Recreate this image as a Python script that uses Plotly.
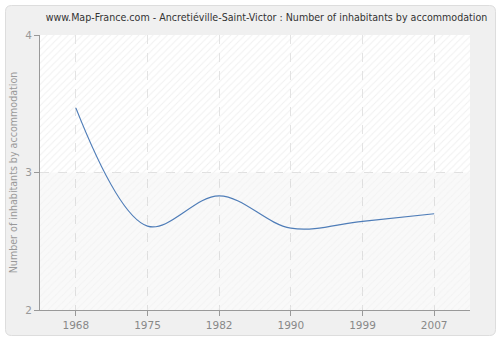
import plotly.graph_objects as go

years = ["1968", "1975", "1982", "1990", "1999", "2007"]
values = [3.47, 2.61, 2.83, 2.595, 2.645, 2.70]
y_ticks = [2, 3, 4]

W, H = 500, 340
ML, MR, MT, MB = 40, 30, 35, 30
PW, PH = W - ML - MR, H - MT - MB

def px(x):
    return (x - ML) / PW

def py(y):
    return (H - MB - y) / PH

def rounded(x0, y0, x1, y1, r):
    pts = [
        f"M {px(x0 + r)} {py(y0)}",
        f"L {px(x1 - r)} {py(y0)}",
        f"Q {px(x1)} {py(y0)} {px(x1)} {py(y0 + r)}",
        f"L {px(x1)} {py(y1 - r)}",
        f"Q {px(x1)} {py(y1)} {px(x1 - r)} {py(y1)}",
        f"L {px(x0 + r)} {py(y1)}",
        f"Q {px(x0)} {py(y1)} {px(x0)} {py(y1 - r)}",
        f"L {px(x0)} {py(y0 + r)}",
        f"Q {px(x0)} {py(y0)} {px(x0 + r)} {py(y0)}",
        "Z",
    ]
    return " ".join(pts)

xi = list(range(len(years)))
xr = [-0.5, len(years) - 0.5]

fig = go.Figure()

# background bands with hatch
fig.add_trace(go.Scatter(
    x=[xr[0], xr[1], xr[1], xr[0], xr[0]], y=[3, 3, 4, 4, 3],
    mode="lines", line=dict(width=0), fill="toself",
    fillcolor="rgba(0,0,0,0)",
    fillpattern=dict(shape="/", fgcolor="#e2e2e2", bgcolor="rgba(0,0,0,0)",
                     size=5, solidity=0.2),
    hoverinfo="skip", showlegend=False))
fig.add_trace(go.Scatter(
    x=[xr[0], xr[1], xr[1], xr[0], xr[0]], y=[2, 2, 3, 3, 2],
    mode="lines", line=dict(width=0), fill="toself",
    fillcolor="rgba(0,0,0,0)",
    fillpattern=dict(shape="/", fgcolor="#ececec", bgcolor="rgba(0,0,0,0.025)",
                     size=5, solidity=0.2),
    hoverinfo="skip", showlegend=False))

fig.add_trace(go.Scatter(
    x=xi, y=values, mode="lines",
    line=dict(color="#4f7db8", width=1.2, shape="spline", smoothing=1.0),
    hoverinfo="skip", showlegend=False))

fig.update_layout(
    width=W, height=H,
    margin=dict(l=ML, r=MR, t=MT, b=MB, autoexpand=False),
    paper_bgcolor="#ffffff",
    plot_bgcolor="#ffffff",
    font=dict(family="DejaVu Sans", size=11, color="#888888"),
    title=dict(
        text="www.Map-France.com - Ancretiéville-Saint-Victor : Number of inhabitants by accommodation",
        x=266.5 / W, xanchor="center", xref="container",
        y=1 - 17 / H, yanchor="middle", yref="container",
        font=dict(family="DejaVu Sans Condensed", size=10.6, color="#333333"),
    ),
    shapes=[
        dict(type="path", xref="paper", yref="paper", layer="below",
             path=rounded(5.5, 5.5, 495.5, 335.5, 6),
             fillcolor="#f0f0f0", line=dict(color="#dddddd", width=1)),
        dict(type="rect", xref="paper", yref="paper", layer="below",
             x0=0, x1=1, y0=0, y1=1, fillcolor="#ffffff", line=dict(width=0)),
    ],
    xaxis=dict(
        range=xr, tickmode="array", tickvals=xi, ticktext=years,
        showgrid=True, gridcolor="#e3e3e3", griddash="dash", gridwidth=1,
        showline=True, linecolor="#999999", linewidth=1,
        ticks="outside", ticklen=5, tickcolor="#999999",
        zeroline=False, fixedrange=True, automargin=False,
        tickfont=dict(family="DejaVu Sans", size=10.5, color="#888888"),
    ),
    yaxis=dict(
        range=[2, 4], tickmode="array", tickvals=y_ticks,
        ticktext=[str(v) for v in y_ticks],
        showgrid=True, gridcolor="#e3e3e3", griddash="dash", gridwidth=1,
        showline=True, linecolor="#999999", linewidth=1,
        ticks="outside", ticklen=5, tickcolor="#999999",
        zeroline=False, fixedrange=True, automargin=False,
        title=dict(text="Number of inhabitants by accommodation", standoff=5,
                   font=dict(family="DejaVu Sans Condensed", size=10.6, color="#999999")),
        tickfont=dict(family="DejaVu Sans", size=10.5, color="#999999"),
    ),
)

fig.write_html("out.html")
